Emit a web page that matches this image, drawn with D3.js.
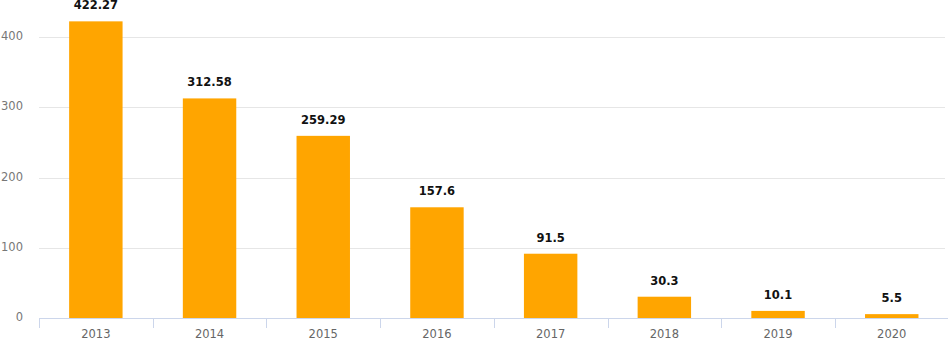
<!DOCTYPE html>
<html><head><meta charset="utf-8">
<script src="https://cdn.jsdelivr.net/npm/d3@7/dist/d3.min.js"></script>
<style>body{margin:0;background:#fff}svg{display:block}</style>
</head><body>
<svg id="c" width="948" height="340"></svg>
<script>
const categories = ["2013","2014","2015","2016","2017","2018","2019","2020"];
const values = [422.27, 312.58, 259.29, 157.6, 91.5, 30.3, 10.1, 5.5];
const yTicks = [0, 100, 200, 300, 400];

const svg = d3.select("#c");
const left = 39, right = 948.6, bottom = 318;
const x = d3.scaleBand().domain(categories).range([left, right]).paddingInner(0.53).paddingOuter(0.265);
const xb = d3.scaleBand().domain(categories).range([left, right]);
const y = d3.scaleLinear().domain([0, 400]).range([bottom, 37]);
const font = '"DejaVu Sans", Verdana, sans-serif';

// grid
svg.append("g").selectAll("line").data(yTicks.filter(d=>d>0)).join("line")
  .attr("x1", left).attr("x2", 945).attr("y1", d=>Math.round(y(d))+0.5).attr("y2", d=>Math.round(y(d))+0.5)
  .attr("stroke", "#e6e6e6").attr("stroke-width", 1);

// y labels
svg.append("g").selectAll("text").data(yTicks).join("text")
  .attr("x", 23).attr("y", d=>y(d)+3).attr("text-anchor","end")
  .attr("font-family", font).attr("font-size", 11.5).attr("fill", "#777")
  .text(d=>d);

// bars
svg.append("g").selectAll("rect").data(values).join("rect")
  .attr("x", (d,i)=>x(categories[i])).attr("width", x.bandwidth())
  .attr("y", d=>y(d)).attr("height", d=>bottom - y(d))
  .attr("fill", "#FFA500");

// axis line + ticks
svg.append("line").attr("x1", left).attr("x2", 948).attr("y1", bottom+0.5).attr("y2", bottom+0.5)
  .attr("stroke", "#ccd6eb");
svg.append("g").selectAll("line").data(categories).join("line")
  .attr("x1", d=>Math.round(xb(d))+0.5).attr("x2", d=>Math.round(xb(d))+0.5)
  .attr("y1", bottom).attr("y2", bottom+10).attr("stroke", "#ccd6eb");

// x labels
svg.append("g").selectAll("text").data(categories).join("text")
  .attr("x", d=>xb(d)+xb.bandwidth()/2).attr("y", 338).attr("text-anchor","middle")
  .attr("font-family", font).attr("font-size", 11.5).attr("fill", "#666")
  .text(d=>d);

// value labels
svg.append("g").selectAll("text").data(values).join("text")
  .attr("x", (d,i)=>x(categories[i])+x.bandwidth()/2).attr("y", d=>y(d)-12)
  .attr("text-anchor","middle").attr("font-family", font).attr("font-size", 11.5)
  .attr("font-weight","bold").attr("fill", "#111")
  .text(d=>d);
</script>
</body></html>
